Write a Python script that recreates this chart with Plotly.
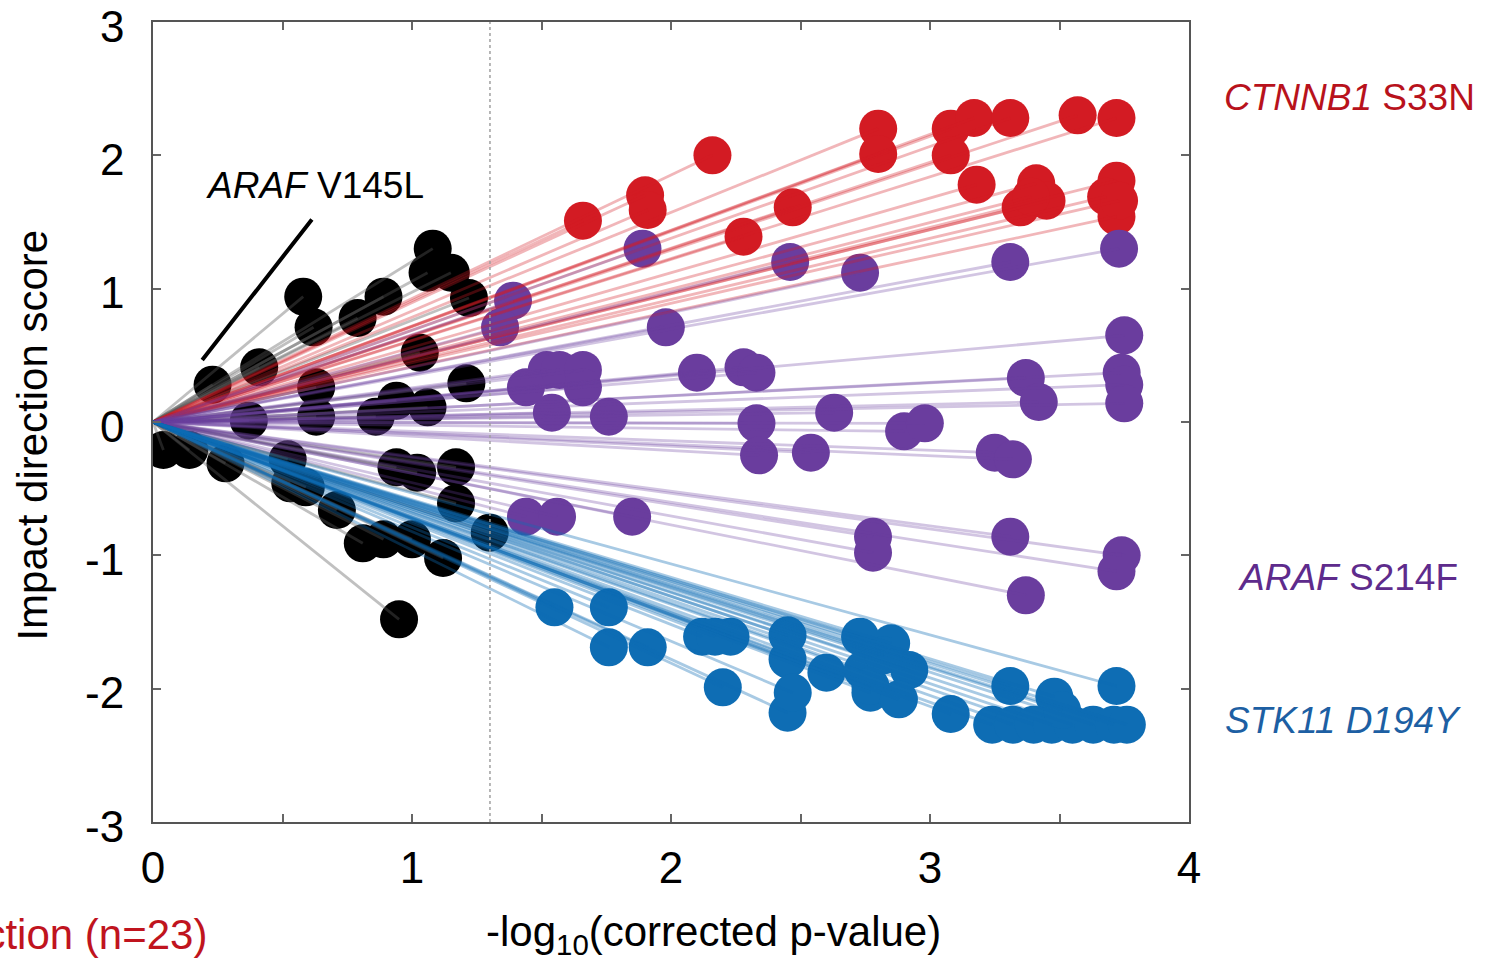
import math
import plotly.graph_objects as go

# -log10(corrected p) and impact direction score per variant, grouped by call
ns_x = [1.08, 1.15, 1.22, 1.06, 0.58, 0.62, 0.89, 0.79, 1.03, 1.21, 0.41, 0.23, 0.63, 0.63, 0.37, 0.86, 0.94, 1.06,
        0.04, 0.14, 0.28, 0.52, 0.53, 0.94, 1.02, 1.17, 1.17, 0.59, 0.71, 0.81, 0.89, 1.00, 1.12, 1.30, 0.95]
ns_y = [1.30, 1.12, 0.93, 1.12, 0.94, 0.71, 0.94, 0.78, 0.52, 0.29, 0.41, 0.28, 0.26, 0.04, 0.01, 0.04, 0.16, 0.11,
        -0.21, -0.21, -0.31, -0.28, -0.46, -0.34, -0.38, -0.34, -0.61, -0.49, -0.66, -0.91, -0.88, -0.88, -1.02, -0.83, -1.48]

up_x = [1.66, 1.90, 1.91, 2.16, 2.28, 2.47, 2.80, 2.80, 3.08, 3.17, 3.08, 3.31, 3.57, 3.72, 3.18, 3.41, 3.35, 3.45,
        3.72, 3.68, 3.72, 3.39, 3.73]
up_y = [1.51, 1.70, 1.59, 2.00, 1.39, 1.61, 2.20, 2.01, 2.20, 2.28, 2.00, 2.28, 2.30, 2.28, 1.78, 1.79, 1.61, 1.66,
        1.81, 1.69, 1.54, 1.69, 1.66]

mid_x = [1.89, 2.46, 2.73, 1.98, 1.39, 1.34, 1.44, 1.52, 1.57, 1.66, 1.66, 1.54, 1.76, 2.10, 2.28, 2.33, 2.33, 2.34,
         2.63, 2.54, 1.44, 1.56, 1.85, 3.75, 3.74, 3.75, 3.75, 3.37, 3.42, 2.90, 2.98, 3.25, 3.32, 2.78, 2.78, 3.31,
         3.74, 3.72, 3.37, 3.73, 3.31]
mid_y = [1.30, 1.20, 1.12, 0.71, 0.91, 0.71, 0.26, 0.39, 0.39, 0.39, 0.26, 0.07, 0.04, 0.37, 0.41, 0.37, -0.01, -0.25,
         0.07, -0.23, -0.71, -0.71, -0.71, 0.65, 0.37, 0.28, 0.14, 0.33, 0.15, -0.07, -0.01, -0.23, -0.28, -0.86, -0.98,
         -0.86, -1.00, -1.12, -1.30, 1.30, 1.20]

down_x = [1.55, 1.76, 1.76, 1.91, 2.12, 2.23, 2.20, 2.45, 2.45, 2.45, 2.47, 2.60, 2.73, 2.74, 2.77, 2.85, 2.92, 2.77,
          2.88, 3.08, 3.31, 3.48, 3.72, 3.24, 3.32, 3.40, 3.47, 3.55, 3.63, 3.71, 3.76, 3.51, 2.17, 2.82]
down_y = [-1.39, -1.39, -1.69, -1.69, -1.61, -1.61, -1.99, -1.60, -1.78, -2.18, -2.03, -1.88, -1.61, -1.86, -2.03,
          -1.66, -1.86, -1.98, -2.08, -2.19, -1.98, -2.06, -1.98, -2.27, -2.27, -2.27, -2.27, -2.27, -2.27, -2.27,
          -2.27, -2.16, -1.61, -1.75]

x_tick_vals = [0, 0.5, 1, 1.5, 2, 2.5, 3, 3.5, 4]
x_tick_text = ["0", "", "1", "", "2", "", "3", "", "4"]
y_tick_vals = [-3, -2, -1, 0, 1, 2, 3]
y_tick_text = ["-3", "-2", "-1", "0", "1", "2", "3"]

p_cutoff = 0.05
FONT = "Liberation Sans, Arial, sans-serif"

groups = [
    (ns_x, ns_y, "#000000", "rgba(90,90,90,0.38)"),
    (up_x, up_y, "#d31b23", "rgba(212,28,36,0.32)"),
    (mid_x, mid_y, "#6a3d9e", "rgba(107,63,160,0.30)"),
    (down_x, down_y, "#0e6db4", "rgba(15,109,181,0.36)"),
]

fig = go.Figure()

# filled dots first
for xs, ys, col, _ in groups:
    fig.add_trace(go.Scatter(x=xs, y=ys, mode="markers",
                             marker=dict(size=38, color=col, line=dict(width=0)),
                             hoverinfo="skip", showlegend=False))

# a ray from the origin to every dot, drawn over the dots
for xs, ys, _, lcol in groups:
    for xv, yv in zip(xs, ys):
        fig.add_trace(go.Scatter(x=[0, xv], y=[0, yv], mode="lines",
                                 line=dict(color=lcol, width=2.8),
                                 hoverinfo="skip", showlegend=False))

sig_x = -math.log10(p_cutoff)
fig.add_shape(type="line", x0=sig_x, x1=sig_x, y0=-3, y1=3, xref="x", yref="y",
              line=dict(color="#a0a0a0", width=1.5, dash="dot"))

axis_common = dict(ticks="inside", ticklen=8, tickwidth=1.5, tickcolor="#666666",
                   showline=True, linecolor="#555555", linewidth=2, mirror="allticks",
                   showgrid=False, zeroline=False,
                   tickfont=dict(family=FONT, size=44, color="#000000"))

fig.update_xaxes(range=[0, 4], tickmode="array", tickvals=x_tick_vals, ticktext=x_tick_text,
                 ticklabelstandoff=6, **axis_common)
# y tick labels are written as annotations so the topmost one is not dropped at the frame edge
fig.update_yaxes(range=[-3, 3], tickmode="array", tickvals=y_tick_vals, ticktext=y_tick_text,
                 showticklabels=False, **axis_common)

annotations = [
    dict(text="-log<sub>10</sub>(corrected p-value)", xref="paper", yref="paper", x=0.5415, y=-0.141,
         xanchor="center", yanchor="middle", showarrow=False, font=dict(family=FONT, size=42, color="#000")),
    dict(text="Impact direction score", xref="paper", yref="paper", x=-0.116, y=0.484, textangle=-90,
         xanchor="center", yanchor="middle", showarrow=False, font=dict(family=FONT, size=42, color="#000")),
    dict(text="<i>CTNNB1</i> S33N", xref="paper", yref="paper", x=1.155, y=0.906,
         xanchor="center", yanchor="middle", showarrow=False, font=dict(family=FONT, size=37, color="#b8121c")),
    dict(text="<i>ARAF</i> S214F", xref="paper", yref="paper", x=1.153, y=0.306,
         xanchor="center", yanchor="middle", showarrow=False, font=dict(family=FONT, size=37, color="#5e2b8c")),
    dict(text="<i>STK11 D194Y</i>", xref="paper", yref="paper", x=1.149, y=0.1275,
         xanchor="center", yanchor="middle", showarrow=False, font=dict(family=FONT, size=37, color="#1d5fa3")),
    dict(text="<i>ARAF</i> V145L", xref="paper", yref="paper", x=0.1565, y=0.796,
         xanchor="center", yanchor="middle", showarrow=False, font=dict(family=FONT, size=37, color="#000")),
    dict(text="", x=0.19, y=0.465, xref="x", yref="y", ax=0.618, ay=1.53, axref="x", ayref="y",
         showarrow=True, arrowhead=0, arrowwidth=4, arrowcolor="#000"),
    dict(text="Same direction (n=23)", xref="paper", yref="paper", x=0.054, y=-0.141,
         xanchor="right", yanchor="middle", showarrow=False, font=dict(family=FONT, size=42, color="#c0141e")),
]

for val, lab in zip(y_tick_vals, y_tick_text):
    annotations.append(dict(text=lab, xref="paper", yref="y", x=-0.026, y=val, yshift=-4,
                            xanchor="right", yanchor="middle", showarrow=False,
                            font=dict(family=FONT, size=44, color="#000")))

fig.update_layout(width=1493, height=960, margin=dict(l=153, r=304, t=22, b=138),
                  paper_bgcolor="white", plot_bgcolor="white", annotations=annotations,
                  showlegend=False)

fig.write_html("out.html")
